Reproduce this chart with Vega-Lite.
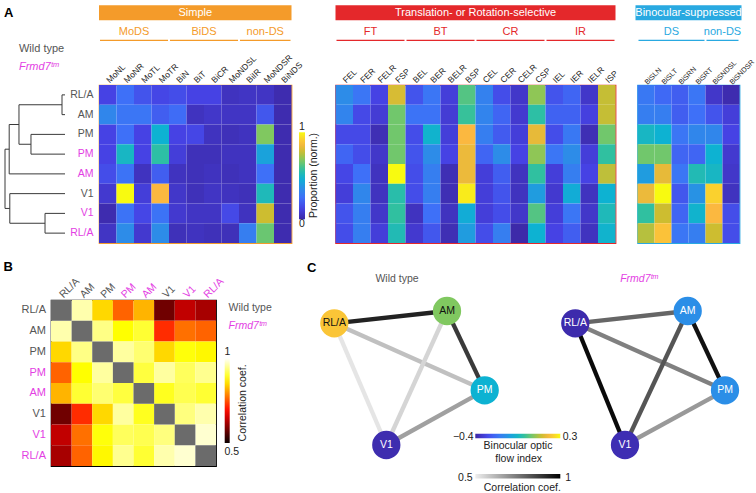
{
"$schema":"https://vega.github.io/schema/vega-lite/v6.json",
"background":"white",
"padding":{"left":2,"top":4,"right":0,"bottom":0},
"config":{"font":"Liberation Sans","view":{"stroke":null},"legend":{"gradientStrokeWidth":0}},
"datasets":{
"dendro":[
{"d1":0,"d2":0.05,"y1":0.5,"y2":0.5},{"d1":0,"d2":0.05,"y1":1.5,"y2":1.5},{"d1":0,"d2":0.567,"y1":2.5,"y2":2.5},{"d1":0,"d2":0.567,"y1":3.5,"y2":3.5},
{"d1":0,"d2":0.93,"y1":4.5,"y2":4.5},{"d1":0,"d2":0.92,"y1":5.5,"y2":5.5},{"d1":0,"d2":0.333,"y1":6.5,"y2":6.5},{"d1":0,"d2":0.333,"y1":7.5,"y2":7.5},
{"d1":0.05,"d2":0.05,"y1":0.5,"y2":1.5},{"d1":0.567,"d2":0.567,"y1":2.5,"y2":3.5},{"d1":0.767,"d2":0.767,"y1":1.0,"y2":3.0},{"d1":0.93,"d2":0.93,"y1":2.0,"y2":4.5},
{"d1":0.333,"d2":0.333,"y1":6.5,"y2":7.5},{"d1":0.92,"d2":0.92,"y1":5.5,"y2":7.0},{"d1":1.0,"d2":1.0,"y1":3.25,"y2":6.25},
{"d1":0.05,"d2":0.767,"y1":1.0,"y2":1.0},{"d1":0.567,"d2":0.767,"y1":3.0,"y2":3.0},{"d1":0.767,"d2":0.93,"y1":2.0,"y2":2.0},
{"d1":0.333,"d2":0.92,"y1":7.0,"y2":7.0},{"d1":0.93,"d2":1.0,"y1":3.25,"y2":3.25},{"d1":0.92,"d2":1.0,"y1":6.25,"y2":6.25}
],
"rows":[
{"id":"RL/A (WT)","area":"RL/A","geno":"WT"},{"id":"AM (WT)","area":"AM","geno":"WT"},{"id":"PM (WT)","area":"PM","geno":"WT"},{"id":"PM (Frmd7)","area":"PM","geno":"Frmd7"},
{"id":"AM (Frmd7)","area":"AM","geno":"Frmd7"},{"id":"V1 (WT)","area":"V1","geno":"WT"},{"id":"V1 (Frmd7)","area":"V1","geno":"Frmd7"},{"id":"RL/A (Frmd7)","area":"RL/A","geno":"Frmd7"}
],
"simple":[
{"area":"RL/A (WT)","cls":"MoNL","v":0.12},{"area":"RL/A (WT)","cls":"MoNR","v":0.25},{"area":"RL/A (WT)","cls":"MoTL","v":0.17},{"area":"RL/A (WT)","cls":"MoTR","v":0.13},{"area":"RL/A (WT)","cls":"BiN","v":0.15},{"area":"RL/A (WT)","cls":"BiT","v":0.12},{"area":"RL/A (WT)","cls":"BiCR","v":0.12},{"area":"RL/A (WT)","cls":"MoNDSL","v":0.05},{"area":"RL/A (WT)","cls":"BiIR","v":0.06},{"area":"RL/A (WT)","cls":"MoNDSR","v":0.06},{"area":"RL/A (WT)","cls":"BiNDS","v":0.02},
{"area":"AM (WT)","cls":"MoNL","v":0.33},{"area":"AM (WT)","cls":"MoNR","v":0.27},{"area":"AM (WT)","cls":"MoTL","v":0.27},{"area":"AM (WT)","cls":"MoTR","v":0.2},{"area":"AM (WT)","cls":"BiN","v":0.24},{"area":"AM (WT)","cls":"BiT","v":0.05},{"area":"AM (WT)","cls":"BiCR","v":0.07},{"area":"AM (WT)","cls":"MoNDSL","v":0.06},{"area":"AM (WT)","cls":"BiIR","v":0.06},{"area":"AM (WT)","cls":"MoNDSR","v":0.18},{"area":"AM (WT)","cls":"BiNDS","v":0.02},
{"area":"PM (WT)","cls":"MoNL","v":0.12},{"area":"PM (WT)","cls":"MoNR","v":0.25},{"area":"PM (WT)","cls":"MoTL","v":0.12},{"area":"PM (WT)","cls":"MoTR","v":0.47},{"area":"PM (WT)","cls":"BiN","v":0.12},{"area":"PM (WT)","cls":"BiT","v":0.13},{"area":"PM (WT)","cls":"BiCR","v":0.05},{"area":"PM (WT)","cls":"MoNDSL","v":0.04},{"area":"PM (WT)","cls":"BiIR","v":0.05},{"area":"PM (WT)","cls":"MoNDSR","v":0.68},{"area":"PM (WT)","cls":"BiNDS","v":0.02},
{"area":"PM (Frmd7)","cls":"MoNL","v":0.12},{"area":"PM (Frmd7)","cls":"MoNR","v":0.5},{"area":"PM (Frmd7)","cls":"MoTL","v":0.12},{"area":"PM (Frmd7)","cls":"MoTR","v":0.56},{"area":"PM (Frmd7)","cls":"BiN","v":0.1},{"area":"PM (Frmd7)","cls":"BiT","v":0.04},{"area":"PM (Frmd7)","cls":"BiCR","v":0.04},{"area":"PM (Frmd7)","cls":"MoNDSL","v":0.05},{"area":"PM (Frmd7)","cls":"BiIR","v":0.05},{"area":"PM (Frmd7)","cls":"MoNDSR","v":0.42},{"area":"PM (Frmd7)","cls":"BiNDS","v":0.02},
{"area":"AM (Frmd7)","cls":"MoNL","v":0.15},{"area":"AM (Frmd7)","cls":"MoNR","v":0.26},{"area":"AM (Frmd7)","cls":"MoTL","v":0.05},{"area":"AM (Frmd7)","cls":"MoTR","v":0.2},{"area":"AM (Frmd7)","cls":"BiN","v":0.05},{"area":"AM (Frmd7)","cls":"BiT","v":0.04},{"area":"AM (Frmd7)","cls":"BiCR","v":0.05},{"area":"AM (Frmd7)","cls":"MoNDSL","v":0.04},{"area":"AM (Frmd7)","cls":"BiIR","v":0.05},{"area":"AM (Frmd7)","cls":"MoNDSR","v":0.25},{"area":"AM (Frmd7)","cls":"BiNDS","v":0.02},
{"area":"V1 (WT)","cls":"MoNL","v":0.08},{"area":"V1 (WT)","cls":"MoNR","v":1.0},{"area":"V1 (WT)","cls":"MoTL","v":0.1},{"area":"V1 (WT)","cls":"MoTR","v":0.87},{"area":"V1 (WT)","cls":"BiN","v":0.07},{"area":"V1 (WT)","cls":"BiT","v":0.04},{"area":"V1 (WT)","cls":"BiCR","v":0.06},{"area":"V1 (WT)","cls":"MoNDSL","v":0.05},{"area":"V1 (WT)","cls":"BiIR","v":0.04},{"area":"V1 (WT)","cls":"MoNDSR","v":0.52},{"area":"V1 (WT)","cls":"BiNDS","v":0.02},
{"area":"V1 (Frmd7)","cls":"MoNL","v":0.02},{"area":"V1 (Frmd7)","cls":"MoNR","v":0.26},{"area":"V1 (Frmd7)","cls":"MoTL","v":0.13},{"area":"V1 (Frmd7)","cls":"MoTR","v":0.26},{"area":"V1 (Frmd7)","cls":"BiN","v":0.08},{"area":"V1 (Frmd7)","cls":"BiT","v":0.06},{"area":"V1 (Frmd7)","cls":"BiCR","v":0.06},{"area":"V1 (Frmd7)","cls":"MoNDSL","v":0.14},{"area":"V1 (Frmd7)","cls":"BiIR","v":0.05},{"area":"V1 (Frmd7)","cls":"MoNDSR","v":0.78},{"area":"V1 (Frmd7)","cls":"BiNDS","v":0.02},
{"area":"RL/A (Frmd7)","cls":"MoNL","v":0.06},{"area":"RL/A (Frmd7)","cls":"MoNR","v":0.35},{"area":"RL/A (Frmd7)","cls":"MoTL","v":0.08},{"area":"RL/A (Frmd7)","cls":"MoTR","v":0.35},{"area":"RL/A (Frmd7)","cls":"BiN","v":0.04},{"area":"RL/A (Frmd7)","cls":"BiT","v":0.05},{"area":"RL/A (Frmd7)","cls":"BiCR","v":0.04},{"area":"RL/A (Frmd7)","cls":"MoNDSL","v":0.04},{"area":"RL/A (Frmd7)","cls":"BiIR","v":0.3},{"area":"RL/A (Frmd7)","cls":"MoNDSR","v":0.65},{"area":"RL/A (Frmd7)","cls":"BiNDS","v":0.02}
],
"trans":[
{"area":"RL/A (WT)","cls":"FEL","v":0.35},{"area":"RL/A (WT)","cls":"FER","v":0.27},{"area":"RL/A (WT)","cls":"FELR","v":0.12},{"area":"RL/A (WT)","cls":"FSP","v":0.8},{"area":"RL/A (WT)","cls":"BEL","v":0.17},{"area":"RL/A (WT)","cls":"BER","v":0.27},{"area":"RL/A (WT)","cls":"BELR","v":0.1},{"area":"RL/A (WT)","cls":"BSP","v":0.62},{"area":"RL/A (WT)","cls":"CEL","v":0.31},{"area":"RL/A (WT)","cls":"CER","v":0.15},{"area":"RL/A (WT)","cls":"CELR","v":0.07},{"area":"RL/A (WT)","cls":"CSP","v":0.7},{"area":"RL/A (WT)","cls":"IEL","v":0.17},{"area":"RL/A (WT)","cls":"IER","v":0.22},{"area":"RL/A (WT)","cls":"IELR","v":0.07},{"area":"RL/A (WT)","cls":"ISP","v":0.77},
{"area":"AM (WT)","cls":"FEL","v":0.32},{"area":"AM (WT)","cls":"FER","v":0.14},{"area":"AM (WT)","cls":"FELR","v":0.09},{"area":"AM (WT)","cls":"FSP","v":0.66},{"area":"AM (WT)","cls":"BEL","v":0.26},{"area":"AM (WT)","cls":"BER","v":0.26},{"area":"AM (WT)","cls":"BELR","v":0.09},{"area":"AM (WT)","cls":"BSP","v":0.58},{"area":"AM (WT)","cls":"CEL","v":0.32},{"area":"AM (WT)","cls":"CER","v":0.22},{"area":"AM (WT)","cls":"CELR","v":0.08},{"area":"AM (WT)","cls":"CSP","v":0.56},{"area":"AM (WT)","cls":"IEL","v":0.21},{"area":"AM (WT)","cls":"IER","v":0.21},{"area":"AM (WT)","cls":"IELR","v":0.11},{"area":"AM (WT)","cls":"ISP","v":0.77},
{"area":"PM (WT)","cls":"FEL","v":0.14},{"area":"PM (WT)","cls":"FER","v":0.14},{"area":"PM (WT)","cls":"FELR","v":0.03},{"area":"PM (WT)","cls":"FSP","v":0.66},{"area":"PM (WT)","cls":"BEL","v":0.15},{"area":"PM (WT)","cls":"BER","v":0.48},{"area":"PM (WT)","cls":"BELR","v":0.1},{"area":"PM (WT)","cls":"BSP","v":0.87},{"area":"PM (WT)","cls":"CEL","v":0.3},{"area":"PM (WT)","cls":"CER","v":0.19},{"area":"PM (WT)","cls":"CELR","v":0.1},{"area":"PM (WT)","cls":"CSP","v":0.83},{"area":"PM (WT)","cls":"IEL","v":0.15},{"area":"PM (WT)","cls":"IER","v":0.28},{"area":"PM (WT)","cls":"IELR","v":0.03},{"area":"PM (WT)","cls":"ISP","v":0.66},
{"area":"PM (Frmd7)","cls":"FEL","v":0.22},{"area":"PM (Frmd7)","cls":"FER","v":0.15},{"area":"PM (Frmd7)","cls":"FELR","v":0.07},{"area":"PM (Frmd7)","cls":"FSP","v":0.66},{"area":"PM (Frmd7)","cls":"BEL","v":0.17},{"area":"PM (Frmd7)","cls":"BER","v":0.35},{"area":"PM (Frmd7)","cls":"BELR","v":0.12},{"area":"PM (Frmd7)","cls":"BSP","v":0.84},{"area":"PM (Frmd7)","cls":"CEL","v":0.22},{"area":"PM (Frmd7)","cls":"CER","v":0.35},{"area":"PM (Frmd7)","cls":"CELR","v":0.12},{"area":"PM (Frmd7)","cls":"CSP","v":0.7},{"area":"PM (Frmd7)","cls":"IEL","v":0.27},{"area":"PM (Frmd7)","cls":"IER","v":0.35},{"area":"PM (Frmd7)","cls":"IELR","v":0.1},{"area":"PM (Frmd7)","cls":"ISP","v":0.57},
{"area":"AM (Frmd7)","cls":"FEL","v":0.13},{"area":"AM (Frmd7)","cls":"FER","v":0.25},{"area":"AM (Frmd7)","cls":"FELR","v":0.05},{"area":"AM (Frmd7)","cls":"FSP","v":1.0},{"area":"AM (Frmd7)","cls":"BEL","v":0.15},{"area":"AM (Frmd7)","cls":"BER","v":0.3},{"area":"AM (Frmd7)","cls":"BELR","v":0.03},{"area":"AM (Frmd7)","cls":"BSP","v":0.84},{"area":"AM (Frmd7)","cls":"CEL","v":0.1},{"area":"AM (Frmd7)","cls":"CER","v":0.2},{"area":"AM (Frmd7)","cls":"CELR","v":0.05},{"area":"AM (Frmd7)","cls":"CSP","v":0.57},{"area":"AM (Frmd7)","cls":"IEL","v":0.1},{"area":"AM (Frmd7)","cls":"IER","v":0.3},{"area":"AM (Frmd7)","cls":"IELR","v":0.12},{"area":"AM (Frmd7)","cls":"ISP","v":0.76},
{"area":"V1 (WT)","cls":"FEL","v":0.1},{"area":"V1 (WT)","cls":"FER","v":0.33},{"area":"V1 (WT)","cls":"FELR","v":0.05},{"area":"V1 (WT)","cls":"FSP","v":0.55},{"area":"V1 (WT)","cls":"BEL","v":0.15},{"area":"V1 (WT)","cls":"BER","v":0.3},{"area":"V1 (WT)","cls":"BELR","v":0.03},{"area":"V1 (WT)","cls":"BSP","v":0.97},{"area":"V1 (WT)","cls":"CEL","v":0.1},{"area":"V1 (WT)","cls":"CER","v":0.17},{"area":"V1 (WT)","cls":"CELR","v":0.05},{"area":"V1 (WT)","cls":"CSP","v":0.4},{"area":"V1 (WT)","cls":"IEL","v":0.08},{"area":"V1 (WT)","cls":"IER","v":0.45},{"area":"V1 (WT)","cls":"IELR","v":0.05},{"area":"V1 (WT)","cls":"ISP","v":0.47},
{"area":"V1 (Frmd7)","cls":"FEL","v":0.17},{"area":"V1 (Frmd7)","cls":"FER","v":0.3},{"area":"V1 (Frmd7)","cls":"FELR","v":0.07},{"area":"V1 (Frmd7)","cls":"FSP","v":0.57},{"area":"V1 (Frmd7)","cls":"BEL","v":0.05},{"area":"V1 (Frmd7)","cls":"BER","v":0.25},{"area":"V1 (Frmd7)","cls":"BELR","v":0.05},{"area":"V1 (Frmd7)","cls":"BSP","v":0.45},{"area":"V1 (Frmd7)","cls":"CEL","v":0.1},{"area":"V1 (Frmd7)","cls":"CER","v":0.15},{"area":"V1 (Frmd7)","cls":"CELR","v":0.07},{"area":"V1 (Frmd7)","cls":"CSP","v":0.62},{"area":"V1 (Frmd7)","cls":"IEL","v":0.1},{"area":"V1 (Frmd7)","cls":"IER","v":0.27},{"area":"V1 (Frmd7)","cls":"IELR","v":0.07},{"area":"V1 (Frmd7)","cls":"ISP","v":0.52},
{"area":"RL/A (Frmd7)","cls":"FEL","v":0.15},{"area":"RL/A (Frmd7)","cls":"FER","v":0.3},{"area":"RL/A (Frmd7)","cls":"FELR","v":0.1},{"area":"RL/A (Frmd7)","cls":"FSP","v":0.53},{"area":"RL/A (Frmd7)","cls":"BEL","v":0.08},{"area":"RL/A (Frmd7)","cls":"BER","v":0.18},{"area":"RL/A (Frmd7)","cls":"BELR","v":0.03},{"area":"RL/A (Frmd7)","cls":"BSP","v":0.4},{"area":"RL/A (Frmd7)","cls":"CEL","v":0.15},{"area":"RL/A (Frmd7)","cls":"CER","v":0.3},{"area":"RL/A (Frmd7)","cls":"CELR","v":0.01},{"area":"RL/A (Frmd7)","cls":"CSP","v":0.47},{"area":"RL/A (Frmd7)","cls":"IEL","v":0.12},{"area":"RL/A (Frmd7)","cls":"IER","v":0.2},{"area":"RL/A (Frmd7)","cls":"IELR","v":0.05},{"area":"RL/A (Frmd7)","cls":"ISP","v":0.48}
],
"binoc":[
{"area":"RL/A (WT)","cls":"BiSLN","v":0.28},{"area":"RL/A (WT)","cls":"BiSLT","v":0.23},{"area":"RL/A (WT)","cls":"BiSRN","v":0.2},{"area":"RL/A (WT)","cls":"BiSRT","v":0.27},{"area":"RL/A (WT)","cls":"BiSNDSL","v":0.07},{"area":"RL/A (WT)","cls":"BiSNDSR","v":0.02},
{"area":"AM (WT)","cls":"BiSLN","v":0.3},{"area":"AM (WT)","cls":"BiSLT","v":0.3},{"area":"AM (WT)","cls":"BiSRN","v":0.2},{"area":"AM (WT)","cls":"BiSRT","v":0.25},{"area":"AM (WT)","cls":"BiSNDSL","v":0.17},{"area":"AM (WT)","cls":"BiSNDSR","v":0.1},
{"area":"PM (WT)","cls":"BiSLN","v":0.5},{"area":"PM (WT)","cls":"BiSLT","v":0.47},{"area":"PM (WT)","cls":"BiSRN","v":0.27},{"area":"PM (WT)","cls":"BiSRT","v":0.33},{"area":"PM (WT)","cls":"BiSNDSL","v":0.33},{"area":"PM (WT)","cls":"BiSNDSR","v":0.12},
{"area":"PM (Frmd7)","cls":"BiSLN","v":0.66},{"area":"PM (Frmd7)","cls":"BiSLT","v":0.66},{"area":"PM (Frmd7)","cls":"BiSRN","v":0.22},{"area":"PM (Frmd7)","cls":"BiSRT","v":0.22},{"area":"PM (Frmd7)","cls":"BiSNDSL","v":0.47},{"area":"PM (Frmd7)","cls":"BiSNDSR","v":0.08},
{"area":"AM (Frmd7)","cls":"BiSLN","v":0.4},{"area":"AM (Frmd7)","cls":"BiSLT","v":0.83},{"area":"AM (Frmd7)","cls":"BiSRN","v":0.27},{"area":"AM (Frmd7)","cls":"BiSRT","v":0.53},{"area":"AM (Frmd7)","cls":"BiSNDSL","v":0.5},{"area":"AM (Frmd7)","cls":"BiSNDSR","v":0.07},
{"area":"V1 (WT)","cls":"BiSLN","v":0.84},{"area":"V1 (WT)","cls":"BiSLT","v":1.0},{"area":"V1 (WT)","cls":"BiSRN","v":0.18},{"area":"V1 (WT)","cls":"BiSRT","v":0.37},{"area":"V1 (WT)","cls":"BiSNDSL","v":0.92},{"area":"V1 (WT)","cls":"BiSNDSR","v":0.05},
{"area":"V1 (Frmd7)","cls":"BiSLN","v":0.57},{"area":"V1 (Frmd7)","cls":"BiSLT","v":0.78},{"area":"V1 (Frmd7)","cls":"BiSRN","v":0.22},{"area":"V1 (Frmd7)","cls":"BiSRT","v":0.48},{"area":"V1 (Frmd7)","cls":"BiSNDSL","v":0.87},{"area":"V1 (Frmd7)","cls":"BiSNDSR","v":0.15},
{"area":"RL/A (Frmd7)","cls":"BiSLN","v":0.75},{"area":"RL/A (Frmd7)","cls":"BiSLT","v":0.89},{"area":"RL/A (Frmd7)","cls":"BiSRN","v":0.27},{"area":"RL/A (Frmd7)","cls":"BiSRT","v":0.3},{"area":"RL/A (Frmd7)","cls":"BiSNDSL","v":0.78},{"area":"RL/A (Frmd7)","cls":"BiSNDSR","v":0.15}
],
"corr":[
{"row":"RL/A (WT)","col":"RL/A (WT)","v":null},{"row":"RL/A (WT)","col":"AM (WT)","v":0.96},{"row":"RL/A (WT)","col":"PM (WT)","v":0.846},{"row":"RL/A (WT)","col":"PM (Frmd7)","v":0.76},{"row":"RL/A (WT)","col":"AM (Frmd7)","v":0.82},{"row":"RL/A (WT)","col":"V1 (WT)","v":0.578},{"row":"RL/A (WT)","col":"V1 (Frmd7)","v":0.64},{"row":"RL/A (WT)","col":"RL/A (Frmd7)","v":0.62},
{"row":"AM (WT)","col":"RL/A (WT)","v":0.96},{"row":"AM (WT)","col":"AM (WT)","v":null},{"row":"AM (WT)","col":"PM (WT)","v":0.94},{"row":"AM (WT)","col":"PM (Frmd7)","v":0.875},{"row":"AM (WT)","col":"AM (Frmd7)","v":0.9},{"row":"AM (WT)","col":"V1 (WT)","v":0.72},{"row":"AM (WT)","col":"V1 (Frmd7)","v":0.77},{"row":"AM (WT)","col":"RL/A (Frmd7)","v":0.76},
{"row":"PM (WT)","col":"RL/A (WT)","v":0.846},{"row":"PM (WT)","col":"AM (WT)","v":0.94},{"row":"PM (WT)","col":"PM (WT)","v":null},{"row":"PM (WT)","col":"PM (Frmd7)","v":0.953},{"row":"PM (WT)","col":"AM (Frmd7)","v":0.93},{"row":"PM (WT)","col":"V1 (WT)","v":0.846},{"row":"PM (WT)","col":"V1 (Frmd7)","v":0.88},{"row":"PM (WT)","col":"RL/A (Frmd7)","v":0.87},
{"row":"PM (Frmd7)","col":"RL/A (WT)","v":0.76},{"row":"PM (Frmd7)","col":"AM (WT)","v":0.875},{"row":"PM (Frmd7)","col":"PM (WT)","v":0.953},{"row":"PM (Frmd7)","col":"PM (Frmd7)","v":null},{"row":"PM (Frmd7)","col":"AM (Frmd7)","v":0.906},{"row":"PM (Frmd7)","col":"V1 (WT)","v":0.953},{"row":"PM (Frmd7)","col":"V1 (Frmd7)","v":0.92},{"row":"PM (Frmd7)","col":"RL/A (Frmd7)","v":0.945},
{"row":"AM (Frmd7)","col":"RL/A (WT)","v":0.82},{"row":"AM (Frmd7)","col":"AM (WT)","v":0.9},{"row":"AM (Frmd7)","col":"PM (WT)","v":0.93},{"row":"AM (Frmd7)","col":"PM (Frmd7)","v":0.906},{"row":"AM (Frmd7)","col":"AM (Frmd7)","v":null},{"row":"AM (Frmd7)","col":"V1 (WT)","v":0.89},{"row":"AM (Frmd7)","col":"V1 (Frmd7)","v":0.914},{"row":"AM (Frmd7)","col":"RL/A (Frmd7)","v":0.9},
{"row":"V1 (WT)","col":"RL/A (WT)","v":0.578},{"row":"V1 (WT)","col":"AM (WT)","v":0.72},{"row":"V1 (WT)","col":"PM (WT)","v":0.846},{"row":"V1 (WT)","col":"PM (Frmd7)","v":0.953},{"row":"V1 (WT)","col":"AM (Frmd7)","v":0.89},{"row":"V1 (WT)","col":"V1 (WT)","v":null},{"row":"V1 (WT)","col":"V1 (Frmd7)","v":0.937},{"row":"V1 (WT)","col":"RL/A (Frmd7)","v":0.96},
{"row":"V1 (Frmd7)","col":"RL/A (WT)","v":0.64},{"row":"V1 (Frmd7)","col":"AM (WT)","v":0.77},{"row":"V1 (Frmd7)","col":"PM (WT)","v":0.88},{"row":"V1 (Frmd7)","col":"PM (Frmd7)","v":0.92},{"row":"V1 (Frmd7)","col":"AM (Frmd7)","v":0.914},{"row":"V1 (Frmd7)","col":"V1 (WT)","v":0.937},{"row":"V1 (Frmd7)","col":"V1 (Frmd7)","v":null},{"row":"V1 (Frmd7)","col":"RL/A (Frmd7)","v":0.977},
{"row":"RL/A (Frmd7)","col":"RL/A (WT)","v":0.62},{"row":"RL/A (Frmd7)","col":"AM (WT)","v":0.76},{"row":"RL/A (Frmd7)","col":"PM (WT)","v":0.87},{"row":"RL/A (Frmd7)","col":"PM (Frmd7)","v":0.945},{"row":"RL/A (Frmd7)","col":"AM (Frmd7)","v":0.9},{"row":"RL/A (Frmd7)","col":"V1 (WT)","v":0.96},{"row":"RL/A (Frmd7)","col":"V1 (Frmd7)","v":0.977},{"row":"RL/A (Frmd7)","col":"RL/A (Frmd7)","v":null}
],
"nodes":[
{"id":"WT RL/A","area":"RL/A","x":0.323,"y":0.233,"bofi":0.227},
{"id":"WT AM","area":"AM","x":1.45,"y":0.11,"bofi":0.076},
{"id":"WT PM","area":"PM","x":1.827,"y":0.903,"bofi":-0.071},
{"id":"WT V1","area":"V1","x":0.843,"y":1.45,"bofi":-0.385},
{"id":"Frmd7 RL/A","area":"RL/A","x":2.733,"y":0.233,"bofi":-0.39},
{"id":"Frmd7 AM","area":"AM","x":3.857,"y":0.11,"bofi":-0.15},
{"id":"Frmd7 PM","area":"PM","x":4.23,"y":0.903,"bofi":-0.15},
{"id":"Frmd7 V1","area":"V1","x":3.23,"y":1.45,"bofi":-0.38}
],
"edges":[
{"source":"WT RL/A","target":"WT AM","r":0.929},{"source":"WT AM","target":"WT PM","r":0.878},{"source":"WT RL/A","target":"WT PM","r":0.597},
{"source":"WT PM","target":"WT V1","r":0.664},{"source":"WT AM","target":"WT V1","r":0.553},{"source":"WT RL/A","target":"WT V1","r":0.519},
{"source":"Frmd7 RL/A","target":"Frmd7 AM","r":0.786},{"source":"Frmd7 RL/A","target":"Frmd7 PM","r":0.731},{"source":"Frmd7 AM","target":"Frmd7 V1","r":0.821},
{"source":"Frmd7 RL/A","target":"Frmd7 V1","r":0.979},{"source":"Frmd7 AM","target":"Frmd7 PM","r":0.964},{"source":"Frmd7 PM","target":"Frmd7 V1","r":0.679}
]
},
"vconcat":[
{"hconcat":[
 {"width":60,"height":158,
  "layer":[
   {"data":{"name":"dendro"},"mark":{"type":"rule","color":"#3a3a3a","strokeWidth":1},
    "encoding":{"x":{"field":"d1","type":"quantitative","scale":{"domain":[0,1],"reverse":true,"nice":false,"zero":false},"axis":null},"x2":{"field":"d2"},
     "y":{"field":"y1","type":"quantitative","scale":{"domain":[0,8],"reverse":true,"nice":false,"zero":false},"axis":null},"y2":{"field":"y2"}}},
   {"data":{"values":[{}]},"mark":{"type":"text","align":"left","baseline":"middle","fontSize":13,"fontWeight":"bold","color":"#000000"},
    "encoding":{"x":{"datum":1.017,"type":"quantitative","scale":{"domain":[0,1],"reverse":true,"nice":false,"zero":false}},"y":{"datum":-3.67,"type":"quantitative","scale":{"domain":[0,8],"reverse":true,"nice":false,"zero":false}},"text":{"value":"A"}}},
   {"data":{"values":[{}]},"mark":{"type":"text","align":"left","baseline":"middle","fontSize":11,"color":"#555555"},
    "encoding":{"x":{"datum":0.767,"type":"quantitative","scale":{"domain":[0,1],"reverse":true,"nice":false,"zero":false}},"y":{"datum":-1.838,"type":"quantitative","scale":{"domain":[0,8],"reverse":true,"nice":false,"zero":false}},"text":{"value":"Wild type"}}},
   {"data":{"values":[{}]},"mark":{"type":"text","align":"left","baseline":"middle","fontSize":11,"fontStyle":"italic","color":"#e33ee3"},
    "encoding":{"x":{"datum":0.767,"type":"quantitative","scale":{"domain":[0,1],"reverse":true,"nice":false,"zero":false}},"y":{"datum":-0.911,"type":"quantitative","scale":{"domain":[0,8],"reverse":true,"nice":false,"zero":false}},"text":{"value":"Frmd7ᵗᵐ"}}}
  ]},
 {"hconcat":[
  {"width":192.5,"height":158,"view":{"stroke":"#f49b2a","strokeWidth":1.2},
   "layer":[
    {"data":{"name":"simple"},"mark":"rect",
     "encoding":{
      "x":{"field":"cls","type":"nominal","scale":{"domain":["MoNL","MoNR","MoTL","MoTR","BiN","BiT","BiCR","MoNDSL","BiIR","MoNDSR","BiNDS"],"paddingInner":0,"paddingOuter":0},
        "axis":{"orient":"top","title":null,"labelAngle":-45,"labelAlign":"left","labelBaseline":"middle","ticks":false,"domain":false,"labelPadding":4,"labelFontSize":8.5,"labelColor":"#222222"}},
      "y":{"field":"area","type":"nominal","scale":{"domain":["RL/A (WT)","AM (WT)","PM (WT)","PM (Frmd7)","AM (Frmd7)","V1 (WT)","V1 (Frmd7)","RL/A (Frmd7)"],"paddingInner":0,"paddingOuter":0},
        "axis":{"title":null,"ticks":false,"domain":false,"labelPadding":6,"labelFontSize":10.5,"labelExpr":"split(datum.value, ' (')[0]","labelColor":{"condition":{"test":"indexof(datum.value, 'Frmd7') >= 0","value":"#e33ee3"},"value":"#555555"}}},
      "color":{"field":"v","type":"quantitative","scale":{"domain":[0,0.12,0.25,0.35,0.47,0.57,0.68,0.78,0.87,1],"range":["#3c28a4","#4642e4","#3e70f8","#2d8ce8","#0db2d2","#30c0a0","#80c860","#cdbd30","#fbb840","#f8fa10"],"interpolate":"rgb"},
        "legend":{"orient":"none","legendX":200,"legendY":47.3,"direction":"vertical","gradientLength":87,"gradientThickness":6,"title":null,"labelExpr":"''","labelOpacity":0,"padding":0}}}},
    {"layer":[
     {"data":{"values":[{"title":"Simple","s":0,"e":11,"mid":5.5}]},"mark":{"type":"rect","color":"#f49b2a"},
      "encoding":{"x":{"field":"s","type":"quantitative","scale":{"domain":[0,11],"nice":false,"zero":false},"axis":null},"x2":{"field":"e"},"y":{"datum":-3.276,"type":"quantitative","scale":{"domain":[0,8],"reverse":true,"nice":false,"zero":false},"axis":null},"y2":{"datum":-4.035}}},
     {"data":{"values":[{"title":"Simple","s":0,"e":11,"mid":5.5}]},"mark":{"type":"text","color":"#ffffff","fontSize":11,"baseline":"middle"},
      "encoding":{"x":{"field":"mid","type":"quantitative","scale":{"domain":[0,11],"nice":false,"zero":false}},"y":{"datum":-3.646,"type":"quantitative","scale":{"domain":[0,8],"reverse":true,"nice":false,"zero":false}},"text":{"field":"title"}}},
     {"data":{"values":[{"grp":"MoDS","s":0,"e":4,"mid":2},{"grp":"BiDS","s":4,"e":8,"mid":6},{"grp":"non-DS","s":8,"e":11,"mid":9.5}]},"mark":{"type":"text","color":"#f49b2a","fontSize":11,"baseline":"middle"},
      "encoding":{"x":{"field":"mid","type":"quantitative","scale":{"domain":[0,11],"nice":false,"zero":false}},"y":{"datum":-2.684,"type":"quantitative","scale":{"domain":[0,8],"reverse":true,"nice":false,"zero":false}},"text":{"field":"grp"}}},
     {"data":{"values":[{"grp":"MoDS","s":0,"e":4,"mid":2},{"grp":"BiDS","s":4,"e":8,"mid":6},{"grp":"non-DS","s":8,"e":11,"mid":9.5}]},"mark":{"type":"rule","color":"#f49b2a","strokeWidth":1.3,"xOffset":1,"x2Offset":-1},
      "encoding":{"x":{"field":"s","type":"quantitative","scale":{"domain":[0,11],"nice":false,"zero":false}},"x2":{"field":"e"},"y":{"datum":-2.258,"type":"quantitative","scale":{"domain":[0,8],"reverse":true,"nice":false,"zero":false}}}},
     {"data":{"values":[{}]},"mark":{"type":"text","fontSize":10.5,"baseline":"middle","color":"#222222"},
      "encoding":{"x":{"datum":11.6,"type":"quantitative","scale":{"domain":[0,11],"nice":false,"zero":false}},"y":{"datum":2.127,"type":"quantitative","scale":{"domain":[0,8],"reverse":true,"nice":false,"zero":false}},"text":{"value":"1"}}},
     {"data":{"values":[{}]},"mark":{"type":"text","fontSize":10.5,"baseline":"middle","color":"#222222"},
      "encoding":{"x":{"datum":11.6,"type":"quantitative","scale":{"domain":[0,11],"nice":false,"zero":false}},"y":{"datum":7.063,"type":"quantitative","scale":{"domain":[0,8],"reverse":true,"nice":false,"zero":false}},"text":{"value":"0"}}},
     {"data":{"values":[{}]},"mark":{"type":"text","fontSize":10.5,"baseline":"middle","angle":270,"color":"#222222"},
      "encoding":{"x":{"datum":12.31,"type":"quantitative","scale":{"domain":[0,11],"nice":false,"zero":false}},"y":{"datum":4.582,"type":"quantitative","scale":{"domain":[0,8],"reverse":true,"nice":false,"zero":false}},"text":{"value":"Proportion (norm.)"}}}
    ]}
   ],
   "resolve":{"scale":{"x":"independent","y":"independent"}}},
  {"hconcat":[
   {"width":280,"height":158,"view":{"stroke":"#e4282b","strokeWidth":1.2},
    "layer":[
     {"data":{"name":"trans"},"mark":"rect",
      "encoding":{
       "x":{"field":"cls","type":"nominal","scale":{"domain":["FEL","FER","FELR","FSP","BEL","BER","BELR","BSP","CEL","CER","CELR","CSP","IEL","IER","IELR","ISP"],"paddingInner":0,"paddingOuter":0},
         "axis":{"orient":"top","title":null,"labelAngle":-45,"labelAlign":"left","labelBaseline":"middle","ticks":false,"domain":false,"labelPadding":4,"labelFontSize":8.5,"labelColor":"#222222"}},
       "y":{"field":"area","type":"nominal","scale":{"domain":["RL/A (WT)","AM (WT)","PM (WT)","PM (Frmd7)","AM (Frmd7)","V1 (WT)","V1 (Frmd7)","RL/A (Frmd7)"],"paddingInner":0,"paddingOuter":0},"axis":null},
       "color":{"field":"v","type":"quantitative","scale":{"domain":[0,0.12,0.25,0.35,0.47,0.57,0.68,0.78,0.87,1],"range":["#3c28a4","#4642e4","#3e70f8","#2d8ce8","#0db2d2","#30c0a0","#80c860","#cdbd30","#fbb840","#f8fa10"],"interpolate":"rgb"},"legend":null}}},
     {"layer":[
      {"data":{"values":[{"title":"Translation- or Rotation-selective","s":0,"e":16,"mid":8}]},"mark":{"type":"rect","color":"#e4282b"},
       "encoding":{"x":{"field":"s","type":"quantitative","scale":{"domain":[0,16],"nice":false,"zero":false},"axis":null},"x2":{"field":"e"},"y":{"datum":-3.276,"type":"quantitative","scale":{"domain":[0,8],"reverse":true,"nice":false,"zero":false},"axis":null},"y2":{"datum":-4.035}}},
      {"data":{"values":[{"title":"Translation- or Rotation-selective","s":0,"e":16,"mid":8}]},"mark":{"type":"text","color":"#ffffff","fontSize":11,"baseline":"middle"},
       "encoding":{"x":{"field":"mid","type":"quantitative","scale":{"domain":[0,16],"nice":false,"zero":false}},"y":{"datum":-3.646,"type":"quantitative","scale":{"domain":[0,8],"reverse":true,"nice":false,"zero":false}},"text":{"field":"title"}}},
      {"data":{"values":[{"grp":"FT","s":0,"e":4,"mid":2},{"grp":"BT","s":4,"e":8,"mid":6},{"grp":"CR","s":8,"e":12,"mid":10},{"grp":"IR","s":12,"e":16,"mid":14}]},"mark":{"type":"text","color":"#e4282b","fontSize":11,"baseline":"middle"},
       "encoding":{"x":{"field":"mid","type":"quantitative","scale":{"domain":[0,16],"nice":false,"zero":false}},"y":{"datum":-2.684,"type":"quantitative","scale":{"domain":[0,8],"reverse":true,"nice":false,"zero":false}},"text":{"field":"grp"}}},
      {"data":{"values":[{"grp":"FT","s":0,"e":4,"mid":2},{"grp":"BT","s":4,"e":8,"mid":6},{"grp":"CR","s":8,"e":12,"mid":10},{"grp":"IR","s":12,"e":16,"mid":14}]},"mark":{"type":"rule","color":"#e4282b","strokeWidth":1.3,"xOffset":1,"x2Offset":-1},
       "encoding":{"x":{"field":"s","type":"quantitative","scale":{"domain":[0,16],"nice":false,"zero":false}},"x2":{"field":"e"},"y":{"datum":-2.258,"type":"quantitative","scale":{"domain":[0,8],"reverse":true,"nice":false,"zero":false}}}}
     ]}
    ],
    "resolve":{"scale":{"x":"independent","y":"independent"}}},
   {"width":102,"height":158,"view":{"stroke":"#29a9e1","strokeWidth":1.2},
    "layer":[
     {"data":{"name":"binoc"},"mark":"rect",
      "encoding":{
       "x":{"field":"cls","type":"nominal","scale":{"domain":["BiSLN","BiSLT","BiSRN","BiSRT","BiSNDSL","BiSNDSR"],"paddingInner":0,"paddingOuter":0},
         "axis":{"orient":"top","title":null,"labelAngle":-45,"labelAlign":"left","labelBaseline":"middle","ticks":false,"domain":false,"labelPadding":2,"labelFontSize":7.2,"labelColor":"#222222"}},
       "y":{"field":"area","type":"nominal","scale":{"domain":["RL/A (WT)","AM (WT)","PM (WT)","PM (Frmd7)","AM (Frmd7)","V1 (WT)","V1 (Frmd7)","RL/A (Frmd7)"],"paddingInner":0,"paddingOuter":0},"axis":null},
       "color":{"field":"v","type":"quantitative","scale":{"domain":[0,0.12,0.25,0.35,0.47,0.57,0.68,0.78,0.87,1],"range":["#3c28a4","#4642e4","#3e70f8","#2d8ce8","#0db2d2","#30c0a0","#80c860","#cdbd30","#fbb840","#f8fa10"],"interpolate":"rgb"},"legend":null}}},
     {"layer":[
      {"data":{"values":[{"title":"Binocular-suppressed","s":0,"e":6,"mid":3}]},"mark":{"type":"rect","color":"#29a9e1","xOffset":-2,"x2Offset":2},
       "encoding":{"x":{"field":"s","type":"quantitative","scale":{"domain":[0,6],"nice":false,"zero":false},"axis":null},"x2":{"field":"e"},"y":{"datum":-3.276,"type":"quantitative","scale":{"domain":[0,8],"reverse":true,"nice":false,"zero":false},"axis":null},"y2":{"datum":-4.035}}},
      {"data":{"values":[{"title":"Binocular-suppressed","s":0,"e":6,"mid":3}]},"mark":{"type":"text","color":"#ffffff","fontSize":11,"baseline":"middle"},
       "encoding":{"x":{"field":"mid","type":"quantitative","scale":{"domain":[0,6],"nice":false,"zero":false}},"y":{"datum":-3.646,"type":"quantitative","scale":{"domain":[0,8],"reverse":true,"nice":false,"zero":false}},"text":{"field":"title"}}},
      {"data":{"values":[{"grp":"DS","s":0,"e":4,"mid":2},{"grp":"non-DS","s":4,"e":6,"mid":5}]},"mark":{"type":"text","color":"#29a9e1","fontSize":11,"baseline":"middle"},
       "encoding":{"x":{"field":"mid","type":"quantitative","scale":{"domain":[0,6],"nice":false,"zero":false}},"y":{"datum":-2.684,"type":"quantitative","scale":{"domain":[0,8],"reverse":true,"nice":false,"zero":false}},"text":{"field":"grp"}}},
      {"data":{"values":[{"grp":"DS","s":0,"e":4,"mid":2},{"grp":"non-DS","s":4,"e":6,"mid":5}]},"mark":{"type":"rule","color":"#29a9e1","strokeWidth":1.3,"xOffset":1,"x2Offset":-1},
       "encoding":{"x":{"field":"s","type":"quantitative","scale":{"domain":[0,6],"nice":false,"zero":false}},"x2":{"field":"e"},"y":{"datum":-2.258,"type":"quantitative","scale":{"domain":[0,8],"reverse":true,"nice":false,"zero":false}}}}
     ]}
    ],
    "resolve":{"scale":{"x":"independent","y":"independent"}}}
  ],"spacing":22,"bounds":"flush","resolve":{"scale":{"color":"independent"}}}
 ],"spacing":43.5,"bounds":"flush","resolve":{"scale":{"color":"independent"}}}
],"spacing":34,"bounds":"flush","resolve":{"scale":{"color":"independent"}}},
{"hconcat":[
 {"width":41,"height":166,"data":{"name":"rows"},"mark":{"type":"text","align":"right","baseline":"middle","fontSize":11},
  "encoding":{"x":{"datum":1,"type":"quantitative","scale":{"domain":[0,1],"nice":false,"zero":false},"axis":null},
   "y":{"field":"id","type":"nominal","scale":{"domain":["RL/A (WT)","AM (WT)","PM (WT)","PM (Frmd7)","AM (Frmd7)","V1 (WT)","V1 (Frmd7)","RL/A (Frmd7)"],"paddingInner":0,"paddingOuter":0},"axis":null},
   "text":{"field":"area"},
   "color":{"condition":{"test":"datum.geno == 'Frmd7'","value":"#e33ee3"},"value":"#555555"}}},
 {"hconcat":[
  {"width":165,"height":166,"view":{"stroke":"#000000","strokeWidth":1.2},
   "layer":[
    {"data":{"name":"corr"},"layer":[
     {"transform":[{"filter":"datum.v != null"}],"mark":"rect",
      "encoding":{
       "x":{"field":"col","type":"nominal","scale":{"domain":["RL/A (WT)","AM (WT)","PM (WT)","PM (Frmd7)","AM (Frmd7)","V1 (WT)","V1 (Frmd7)","RL/A (Frmd7)"],"paddingInner":0,"paddingOuter":0},
        "axis":{"orient":"top","title":null,"labelAngle":-45,"labelAlign":"left","labelBaseline":"middle","ticks":false,"domain":false,"labelPadding":4,"labelFontSize":10.5,"labelExpr":"split(datum.value, ' (')[0]","labelColor":{"condition":{"test":"indexof(datum.value, 'Frmd7') >= 0","value":"#e33ee3"},"value":"#555555"}}},
       "y":{"field":"row","type":"nominal","scale":{"domain":["RL/A (WT)","AM (WT)","PM (WT)","PM (Frmd7)","AM (Frmd7)","V1 (WT)","V1 (Frmd7)","RL/A (Frmd7)"],"paddingInner":0,"paddingOuter":0},"axis":null},
       "color":{"field":"v","type":"quantitative","scale":{"domain":[0.5,0.6875,0.875,1],"range":["#0a0000","#ff0000","#ffff00","#ffffff"],"interpolate":"rgb"},
        "legend":{"orient":"none","legendX":173.7,"legendY":58,"direction":"vertical","gradientLength":85,"gradientThickness":5,"title":null,"labelExpr":"''","labelOpacity":0,"padding":0}}}},
     {"transform":[{"filter":"datum.v == null"}],"mark":{"type":"rect","color":"#6b6b6b"},
      "encoding":{"x":{"field":"col","type":"nominal"},"y":{"field":"row","type":"nominal"}}}
    ]},
    {"layer":[
     {"data":{"values":[{}]},"mark":{"type":"text","align":"left","baseline":"middle","fontSize":13,"fontWeight":"bold","color":"#000000"},
      "encoding":{"x":{"datum":-2.3,"type":"quantitative","scale":{"domain":[0,8],"nice":false,"zero":false},"axis":null},"y":{"datum":-1.61,"type":"quantitative","scale":{"domain":[0,8],"reverse":true,"nice":false,"zero":false},"axis":null},"text":{"value":"B"}}},
     {"data":{"values":[{}]},"mark":{"type":"text","align":"left","baseline":"middle","fontSize":10.5,"color":"#222222"},
      "encoding":{"x":{"datum":8.41,"type":"quantitative","scale":{"domain":[0,8],"nice":false,"zero":false}},"y":{"datum":2.506,"type":"quantitative","scale":{"domain":[0,8],"reverse":true,"nice":false,"zero":false}},"text":{"value":"1"}}},
     {"data":{"values":[{}]},"mark":{"type":"text","align":"left","baseline":"middle","fontSize":10.5,"color":"#222222"},
      "encoding":{"x":{"datum":8.41,"type":"quantitative","scale":{"domain":[0,8],"nice":false,"zero":false}},"y":{"datum":7.31,"type":"quantitative","scale":{"domain":[0,8],"reverse":true,"nice":false,"zero":false}},"text":{"value":"0.5"}}},
     {"data":{"values":[{}]},"mark":{"type":"text","baseline":"middle","fontSize":10.5,"angle":270,"color":"#222222"},
      "encoding":{"x":{"datum":9.31,"type":"quantitative","scale":{"domain":[0,8],"nice":false,"zero":false}},"y":{"datum":4.96,"type":"quantitative","scale":{"domain":[0,8],"reverse":true,"nice":false,"zero":false}},"text":{"value":"Correlation coef."}}},
     {"data":{"values":[{}]},"mark":{"type":"text","align":"left","baseline":"middle","fontSize":10.5,"color":"#555555"},
      "encoding":{"x":{"datum":8.61,"type":"quantitative","scale":{"domain":[0,8],"nice":false,"zero":false}},"y":{"datum":0.4,"type":"quantitative","scale":{"domain":[0,8],"reverse":true,"nice":false,"zero":false}},"text":{"value":"Wild type"}}},
     {"data":{"values":[{}]},"mark":{"type":"text","align":"left","baseline":"middle","fontSize":10.5,"fontStyle":"italic","color":"#e33ee3"},
      "encoding":{"x":{"datum":8.61,"type":"quantitative","scale":{"domain":[0,8],"nice":false,"zero":false}},"y":{"datum":1.25,"type":"quantitative","scale":{"domain":[0,8],"reverse":true,"nice":false,"zero":false}},"text":{"value":"Frmd7ᵗᵐ"}}}
    ]}
   ],
   "resolve":{"scale":{"x":"independent","y":"independent"}}},
  {"width":456,"height":194,
   "layer":[
    {"data":{"name":"edges"},
     "transform":[
      {"lookup":"source","from":{"data":{"name":"nodes"},"key":"id","fields":["x","y"]},"as":["sx","sy"]},
      {"lookup":"target","from":{"data":{"name":"nodes"},"key":"id","fields":["x","y"]},"as":["tx","ty"]}],
     "mark":{"type":"rule","strokeWidth":4.3,"strokeCap":"butt"},
     "encoding":{
      "x":{"field":"sx","type":"quantitative","scale":{"domain":[0,4.56],"nice":false,"zero":false},"axis":null},
      "y":{"field":"sy","type":"quantitative","scale":{"domain":[0,1.94],"reverse":true,"nice":false,"zero":false},"axis":null},
      "x2":{"field":"tx"},"y2":{"field":"ty"},
      "stroke":{"field":"r","type":"quantitative","scale":{"domain":[0.5,1],"range":["#eeeeee","#000000"],"interpolate":"rgb"},
       "legend":{"orient":"none","legendX":173.3,"legendY":174,"direction":"horizontal","gradientLength":85,"gradientThickness":4.6,"title":null,"labelExpr":"''","labelOpacity":0,"padding":0}}}},
    {"data":{"name":"nodes"},"mark":{"type":"circle","size":800,"opacity":1},
     "encoding":{
      "x":{"field":"x","type":"quantitative","scale":{"domain":[0,4.56],"nice":false,"zero":false},"axis":null},
      "y":{"field":"y","type":"quantitative","scale":{"domain":[0,1.94],"reverse":true,"nice":false,"zero":false},"axis":null},
      "fill":{"field":"bofi","type":"quantitative","scale":{"domain":[-0.4,-0.316,-0.225,-0.155,-0.071,-0.001,0.076,0.146,0.209,0.3],"range":["#3c28a4","#4642e4","#3e70f8","#2d8ce8","#0db2d2","#30c0a0","#80c860","#cdbd30","#fbb840","#f8fa10"],"interpolate":"rgb"},
       "legend":{"orient":"none","legendX":173.3,"legendY":133.7,"direction":"horizontal","gradientLength":85,"gradientThickness":4.6,"title":null,"labelExpr":"''","labelOpacity":0,"padding":0}}}},
    {"data":{"name":"nodes"},"mark":{"type":"text","fontSize":10.5,"baseline":"middle"},
     "encoding":{
      "x":{"field":"x","type":"quantitative","scale":{"domain":[0,4.56],"nice":false,"zero":false}},
      "y":{"field":"y","type":"quantitative","scale":{"domain":[0,1.94],"reverse":true,"nice":false,"zero":false}},
      "text":{"field":"area"},
      "color":{"condition":{"test":"datum.bofi > 0","value":"#111111"},"value":"#ffffff"}}},
    {"data":{"values":[{}]},"mark":{"type":"text","align":"left","baseline":"middle","fontSize":13,"fontWeight":"bold","color":"#000000"},
     "encoding":{"x":{"datum":0.05,"type":"quantitative","scale":{"domain":[0,4.56],"nice":false,"zero":false}},"y":{"datum":-0.32,"type":"quantitative","scale":{"domain":[0,1.94],"reverse":true,"nice":false,"zero":false}},"text":{"value":"C"}}},
    {"data":{"values":[{}]},"mark":{"type":"text","baseline":"middle","fontSize":10.5,"color":"#555555"},
     "encoding":{"x":{"datum":0.95,"type":"quantitative","scale":{"domain":[0,4.56],"nice":false,"zero":false}},"y":{"datum":-0.213,"type":"quantitative","scale":{"domain":[0,1.94],"reverse":true,"nice":false,"zero":false}},"text":{"value":"Wild type"}}},
    {"data":{"values":[{}]},"mark":{"type":"text","baseline":"middle","fontSize":10.5,"fontStyle":"italic","color":"#e33ee3"},
     "encoding":{"x":{"datum":3.37,"type":"quantitative","scale":{"domain":[0,4.56],"nice":false,"zero":false}},"y":{"datum":-0.213,"type":"quantitative","scale":{"domain":[0,1.94],"reverse":true,"nice":false,"zero":false}},"text":{"value":"Frmd7ᵗᵐ"}}},
    {"data":{"values":[{}]},"mark":{"type":"text","align":"right","baseline":"middle","fontSize":10.5,"color":"#222222"},
     "encoding":{"x":{"datum":1.717,"type":"quantitative","scale":{"domain":[0,4.56],"nice":false,"zero":false}},"y":{"datum":1.367,"type":"quantitative","scale":{"domain":[0,1.94],"reverse":true,"nice":false,"zero":false}},"text":{"value":"−0.4"}}},
    {"data":{"values":[{}]},"mark":{"type":"text","align":"left","baseline":"middle","fontSize":10.5,"color":"#222222"},
     "encoding":{"x":{"datum":2.607,"type":"quantitative","scale":{"domain":[0,4.56],"nice":false,"zero":false}},"y":{"datum":1.367,"type":"quantitative","scale":{"domain":[0,1.94],"reverse":true,"nice":false,"zero":false}},"text":{"value":"0.3"}}},
    {"data":{"values":[{}]},"mark":{"type":"text","baseline":"middle","fontSize":10.5,"color":"#222222"},
     "encoding":{"x":{"datum":2.16,"type":"quantitative","scale":{"domain":[0,4.56],"nice":false,"zero":false}},"y":{"datum":1.46,"type":"quantitative","scale":{"domain":[0,1.94],"reverse":true,"nice":false,"zero":false}},"text":{"value":"Binocular optic"}}},
    {"data":{"values":[{}]},"mark":{"type":"text","baseline":"middle","fontSize":10.5,"color":"#222222"},
     "encoding":{"x":{"datum":2.167,"type":"quantitative","scale":{"domain":[0,4.56],"nice":false,"zero":false}},"y":{"datum":1.593,"type":"quantitative","scale":{"domain":[0,1.94],"reverse":true,"nice":false,"zero":false}},"text":{"value":"flow index"}}},
    {"data":{"values":[{}]},"mark":{"type":"text","align":"right","baseline":"middle","fontSize":10.5,"color":"#222222"},
     "encoding":{"x":{"datum":1.707,"type":"quantitative","scale":{"domain":[0,4.56],"nice":false,"zero":false}},"y":{"datum":1.783,"type":"quantitative","scale":{"domain":[0,1.94],"reverse":true,"nice":false,"zero":false}},"text":{"value":"0.5"}}},
    {"data":{"values":[{}]},"mark":{"type":"text","align":"left","baseline":"middle","fontSize":10.5,"color":"#222222"},
     "encoding":{"x":{"datum":2.633,"type":"quantitative","scale":{"domain":[0,4.56],"nice":false,"zero":false}},"y":{"datum":1.783,"type":"quantitative","scale":{"domain":[0,1.94],"reverse":true,"nice":false,"zero":false}},"text":{"value":"1"}}},
    {"data":{"values":[{}]},"mark":{"type":"text","baseline":"middle","fontSize":10.5,"color":"#222222"},
     "encoding":{"x":{"datum":2.203,"type":"quantitative","scale":{"domain":[0,4.56],"nice":false,"zero":false}},"y":{"datum":1.877,"type":"quantitative","scale":{"domain":[0,1.94],"reverse":true,"nice":false,"zero":false}},"text":{"value":"Correlation coef."}}}
   ]}
 ],"spacing":86,"bounds":"flush","resolve":{"scale":{"color":"independent","fill":"independent","stroke":"independent"}}}
],"spacing":5,"bounds":"flush","resolve":{"scale":{"color":"independent","fill":"independent","stroke":"independent"}}}
],
"spacing":15,
"bounds":"full",
"resolve":{"scale":{"color":"independent"}}
}
